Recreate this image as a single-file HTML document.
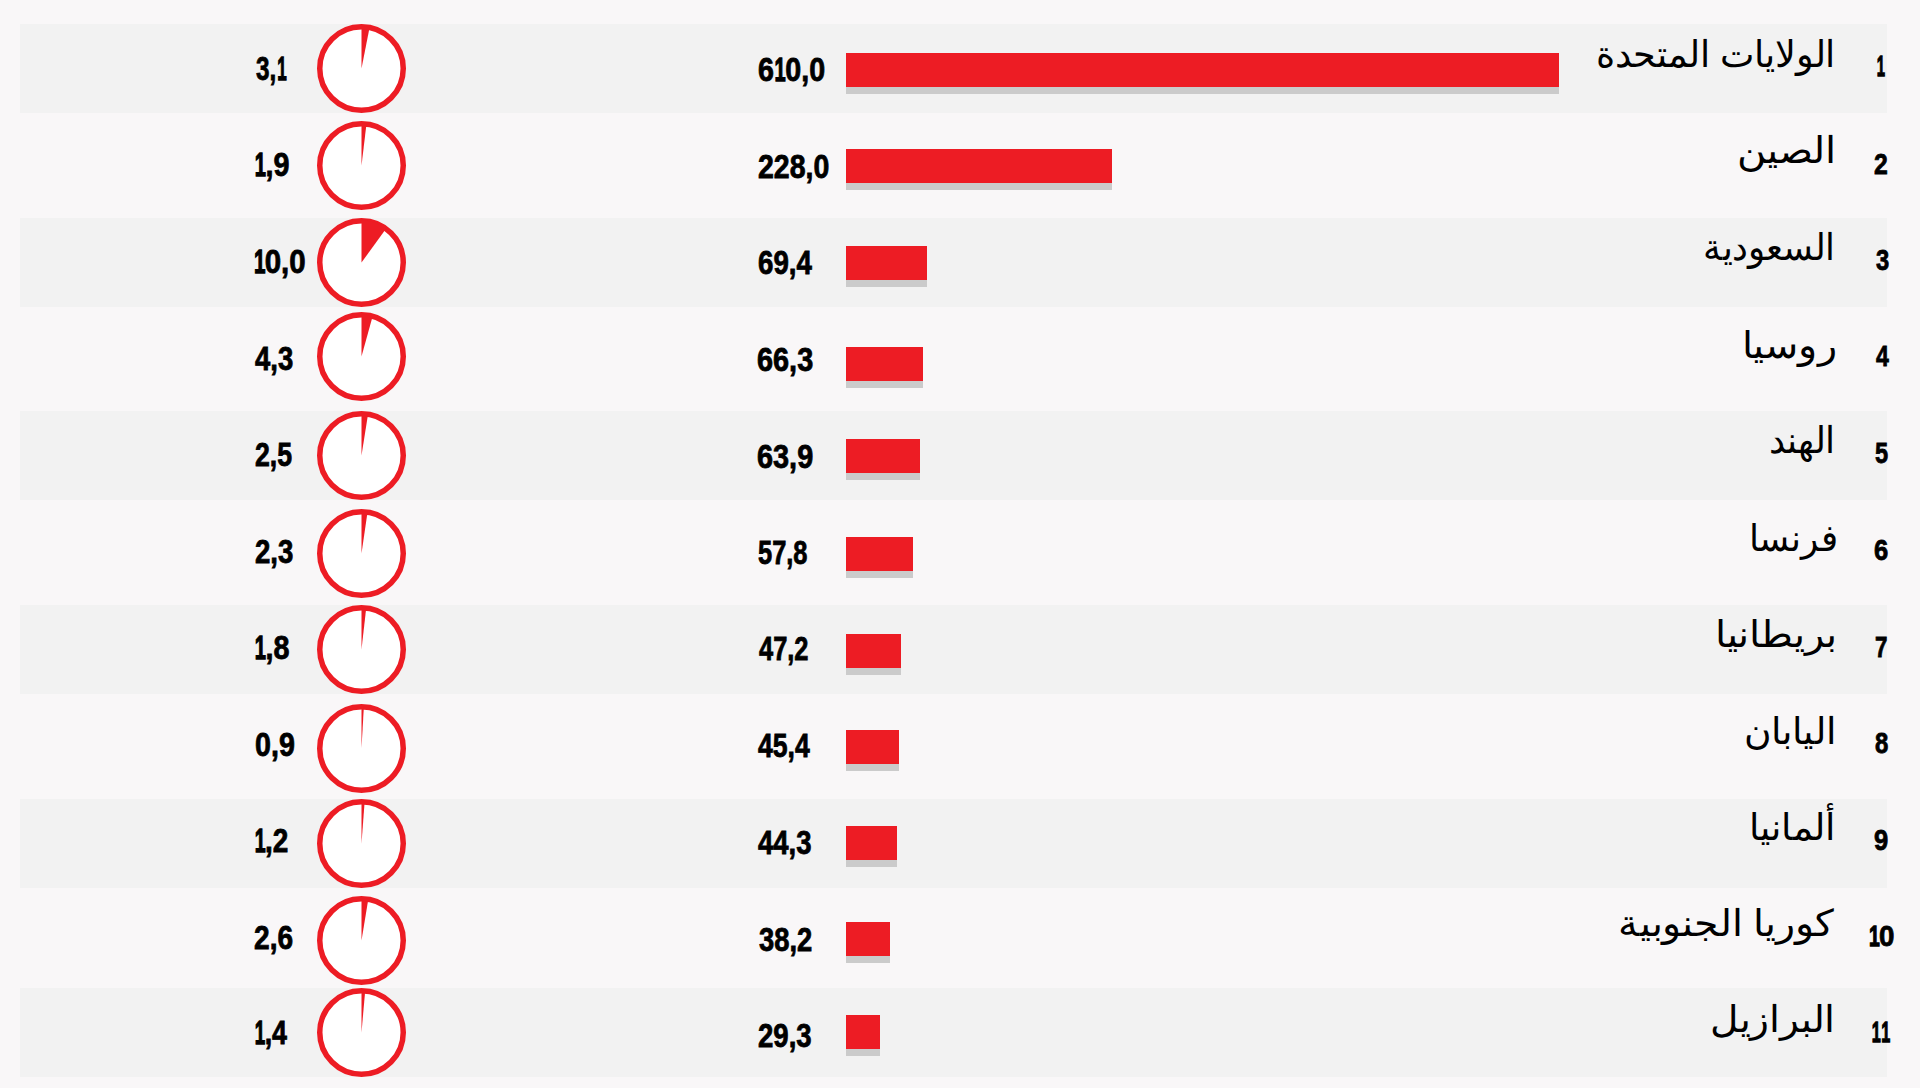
<!DOCTYPE html>
<html lang="ar"><head><meta charset="utf-8"><title>chart</title>
<style>
html,body{margin:0;padding:0}
body{width:1920px;height:1088px;overflow:hidden;background:#f9f7f8;position:relative;font-family:"Liberation Sans",sans-serif;color:#000}
.s{position:absolute;left:20px;width:1866.5px;height:89px;background:#f2f2f2}
.c{position:absolute;left:316.8px;width:89px;height:89px}
.c svg{display:block}
.b{position:absolute;left:845.6px;height:34px;background:#ed1c24;box-shadow:0 7px 0 #cbcbcb}
.n{position:absolute;font-weight:bold;white-space:nowrap;line-height:1;transform-origin:0 0;font-size:33px;-webkit-text-stroke:0.8px #000}
.r{position:absolute;font-weight:bold;white-space:nowrap;line-height:1;font-size:29.5px;transform-origin:0 0;-webkit-text-stroke:0.8px #000}
.a{position:absolute;white-space:nowrap;line-height:1;font-size:37px;direction:rtl;transform-origin:100% 0}
.o{display:inline-block;transform:scaleX(.7);transform-origin:0 0;margin-left:.03em;margin-right:-.19em;-webkit-text-stroke-width:1.3px}
</style></head><body>

<div class="s" style="top:23.5px"></div>
<div class="s" style="top:217.5px"></div>
<div class="s" style="top:411.0px"></div>
<div class="s" style="top:605.0px"></div>
<div class="s" style="top:798.5px"></div>
<div class="s" style="top:987.8px"></div>
<div class="c" style="top:23.5px"><svg width="89" height="89" viewBox="0 0 89 89"><circle cx="44.5" cy="44.5" r="41.75" fill="#fff" stroke="#ed1c24" stroke-width="5.5"/><path d="M44.5 44.5 L44.5 2.5 A42 42 0 0 1 52.63 3.29 Z" fill="#ed1c24"/></svg></div>
<div class="b" style="top:52.7px;width:713.4px"></div>
<div class="n" style="left:757.83px;top:52.88px;transform:scaleX(0.868)">6<span class="o">1</span>0,0</div>
<div class="n" style="left:255.5px;top:51.93px;transform:scaleX(0.736)">3,<span class="o">1</span></div>
<div class="r" style="left:1876.06px;top:51.21px;transform:scaleX(0.718)"><span class="o">1</span></div>
<div class="a" style="right:84.26px;top:35.78px;transform:scaleX(0.988)">الولايات المتحدة</div>
<div class="c" style="top:121.0px"><svg width="89" height="89" viewBox="0 0 89 89"><circle cx="44.5" cy="44.5" r="41.75" fill="#fff" stroke="#ed1c24" stroke-width="5.5"/><path d="M44.5 44.5 L44.5 2.5 A42 42 0 0 1 49.50 2.80 Z" fill="#ed1c24"/></svg></div>
<div class="b" style="top:149.3px;width:266.6px"></div>
<div class="n" style="left:757.54px;top:149.98px;transform:scaleX(0.863)">228,0</div>
<div class="n" style="left:253.76px;top:148.43px;transform:scaleX(0.871)"><span class="o">1</span>,9</div>
<div class="r" style="left:1874.16px;top:149.01px;transform:scaleX(0.840)">2</div>
<div class="a" style="right:84.26px;top:132.08px;transform:scaleX(1.081)">الصين</div>
<div class="c" style="top:217.5px"><svg width="89" height="89" viewBox="0 0 89 89"><circle cx="44.5" cy="44.5" r="41.75" fill="#fff" stroke="#ed1c24" stroke-width="5.5"/><path d="M44.5 44.5 L44.5 2.5 A42 42 0 0 1 69.19 10.52 Z" fill="#ed1c24"/></svg></div>
<div class="b" style="top:246.2px;width:81.2px"></div>
<div class="n" style="left:758.06px;top:246.38px;transform:scaleX(0.839)">69,4</div>
<div class="n" style="left:253.31px;top:245.03px;transform:scaleX(0.893)"><span class="o">1</span>0,0</div>
<div class="r" style="left:1875.7px;top:244.71px;transform:scaleX(0.806)">3</div>
<div class="a" style="right:84.62px;top:229.18px;transform:scaleX(0.961)">السعودية</div>
<div class="c" style="top:311.7px"><svg width="89" height="89" viewBox="0 0 89 89"><circle cx="44.5" cy="44.5" r="41.75" fill="#fff" stroke="#ed1c24" stroke-width="5.5"/><path d="M44.5 44.5 L44.5 2.5 A42 42 0 0 1 55.71 4.02 Z" fill="#ed1c24"/></svg></div>
<div class="b" style="top:347.0px;width:77.5px"></div>
<div class="n" style="left:757.43px;top:343.43px;transform:scaleX(0.875)">66,3</div>
<div class="n" style="left:255.1px;top:342.03px;transform:scaleX(0.833)">4,3</div>
<div class="r" style="left:1875.7px;top:341.21px;transform:scaleX(0.782)">4</div>
<div class="a" style="right:82.55px;top:326.68px;transform:scaleX(1.073)">روسيا</div>
<div class="c" style="top:411.0px"><svg width="89" height="89" viewBox="0 0 89 89"><circle cx="44.5" cy="44.5" r="41.75" fill="#fff" stroke="#ed1c24" stroke-width="5.5"/><path d="M44.5 44.5 L44.5 2.5 A42 42 0 0 1 51.07 3.02 Z" fill="#ed1c24"/></svg></div>
<div class="b" style="top:439.2px;width:74.7px"></div>
<div class="n" style="left:757.43px;top:439.83px;transform:scaleX(0.875)">63,9</div>
<div class="n" style="left:254.69px;top:438.28px;transform:scaleX(0.809)">2,5</div>
<div class="r" style="left:1874.9px;top:437.91px;transform:scaleX(0.800)">5</div>
<div class="a" style="right:84.57px;top:421.98px;transform:scaleX(0.976)">الهند</div>
<div class="c" style="top:509.4px"><svg width="89" height="89" viewBox="0 0 89 89"><circle cx="44.5" cy="44.5" r="41.75" fill="#fff" stroke="#ed1c24" stroke-width="5.5"/><path d="M44.5 44.5 L44.5 2.5 A42 42 0 0 1 50.55 2.94 Z" fill="#ed1c24"/></svg></div>
<div class="b" style="top:537.0px;width:67.6px"></div>
<div class="n" style="left:758.03px;top:536.03px;transform:scaleX(0.771)">57,8</div>
<div class="n" style="left:254.66px;top:535.23px;transform:scaleX(0.836)">2,3</div>
<div class="r" style="left:1874.33px;top:535.31px;transform:scaleX(0.867)">6</div>
<div class="a" style="right:81.78px;top:519.88px;transform:scaleX(0.972)">فرنسا</div>
<div class="c" style="top:605.0px"><svg width="89" height="89" viewBox="0 0 89 89"><circle cx="44.5" cy="44.5" r="41.75" fill="#fff" stroke="#ed1c24" stroke-width="5.5"/><path d="M44.5 44.5 L44.5 2.5 A42 42 0 0 1 49.24 2.77 Z" fill="#ed1c24"/></svg></div>
<div class="b" style="top:633.6px;width:55.2px"></div>
<div class="n" style="left:758.8px;top:632.38px;transform:scaleX(0.771)">47,2</div>
<div class="n" style="left:253.76px;top:631.43px;transform:scaleX(0.871)"><span class="o">1</span>,8</div>
<div class="r" style="left:1874.94px;top:632.01px;transform:scaleX(0.760)">7</div>
<div class="a" style="right:83.25px;top:616.08px;transform:scaleX(1.083)">بريطانيا</div>
<div class="c" style="top:703.5px"><svg width="89" height="89" viewBox="0 0 89 89"><circle cx="44.5" cy="44.5" r="41.75" fill="#fff" stroke="#ed1c24" stroke-width="5.5"/><path d="M44.5 44.5 L44.5 2.5 A42 42 0 0 1 46.87 2.57 Z" fill="#ed1c24"/></svg></div>
<div class="b" style="top:730.1px;width:53.1px"></div>
<div class="n" style="left:758.3px;top:728.88px;transform:scaleX(0.806)">45,4</div>
<div class="n" style="left:255.03px;top:727.98px;transform:scaleX(0.868)">0,9</div>
<div class="r" style="left:1875.2px;top:727.61px;transform:scaleX(0.812)">8</div>
<div class="a" style="right:84.45px;top:712.58px;transform:scaleX(1.016)">اليابان</div>
<div class="c" style="top:798.5px"><svg width="89" height="89" viewBox="0 0 89 89"><circle cx="44.5" cy="44.5" r="41.75" fill="#fff" stroke="#ed1c24" stroke-width="5.5"/><path d="M44.5 44.5 L44.5 2.5 A42 42 0 0 1 47.66 2.62 Z" fill="#ed1c24"/></svg></div>
<div class="b" style="top:826.4px;width:51.8px"></div>
<div class="n" style="left:758.3px;top:825.93px;transform:scaleX(0.833)">44,3</div>
<div class="n" style="left:253.81px;top:824.13px;transform:scaleX(0.847)"><span class="o">1</span>,2</div>
<div class="r" style="left:1874.33px;top:824.91px;transform:scaleX(0.867)">9</div>
<div class="a" style="right:85.48px;top:809.18px;transform:scaleX(1.010)">ألمانيا</div>
<div class="c" style="top:896.3px"><svg width="89" height="89" viewBox="0 0 89 89"><circle cx="44.5" cy="44.5" r="41.75" fill="#fff" stroke="#ed1c24" stroke-width="5.5"/><path d="M44.5 44.5 L44.5 2.5 A42 42 0 0 1 51.33 3.06 Z" fill="#ed1c24"/></svg></div>
<div class="b" style="top:922.0px;width:44.7px"></div>
<div class="n" style="left:758.8px;top:922.63px;transform:scaleX(0.829)">38,2</div>
<div class="n" style="left:254.25px;top:921.03px;transform:scaleX(0.852)">2,6</div>
<div class="r" style="left:1867.82px;top:921.11px;transform:scaleX(0.938)"><span class="o">1</span>0</div>
<div class="a" style="right:85.3px;top:904.78px;transform:scaleX(1.067)">كوريا الجنوبية</div>
<div class="c" style="top:987.8px"><svg width="89" height="89" viewBox="0 0 89 89"><circle cx="44.5" cy="44.5" r="41.75" fill="#fff" stroke="#ed1c24" stroke-width="5.5"/><path d="M44.5 44.5 L44.5 2.5 A42 42 0 0 1 48.19 2.66 Z" fill="#ed1c24"/></svg></div>
<div class="b" style="top:1014.9px;width:34.3px"></div>
<div class="n" style="left:758.07px;top:1018.73px;transform:scaleX(0.835)">29,3</div>
<div class="n" style="left:253.87px;top:1016.38px;transform:scaleX(0.813)"><span class="o">1</span>,4</div>
<div class="r" style="left:1870.63px;top:1017.21px;transform:scaleX(0.783)"><span class="o">1</span><span class="o">1</span></div>
<div class="a" style="right:84.82px;top:1001.18px;transform:scaleX(1.060)">البرازيل</div>
</body></html>
